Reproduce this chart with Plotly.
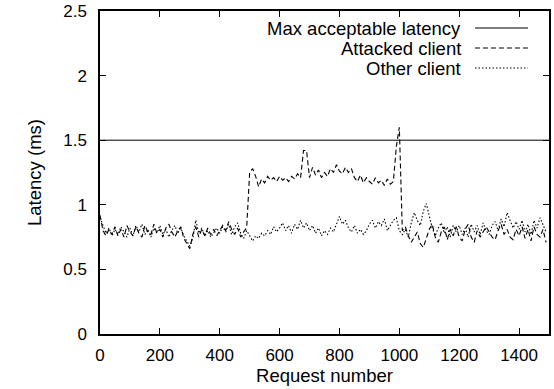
import plotly.graph_objects as go

# x positions (request number), every 10 requests
request_x = [i * 10 for i in range(150)]

other_client = [
    0.90, 0.84, 0.78, 0.82, 0.76, 0.81, 0.77, 0.83, 0.79, 0.75,
    0.82, 0.76, 0.84, 0.79, 0.85, 0.77, 0.81, 0.75, 0.82, 0.78,
    0.84, 0.77, 0.81, 0.75, 0.80, 0.84, 0.78, 0.82, 0.76, 0.72,
    0.68, 0.74, 0.88, 0.78, 0.82, 0.76, 0.80, 0.75, 0.79, 0.82,
    0.78, 0.83, 0.79, 0.85, 0.77, 0.83, 0.86, 0.78, 0.74, 0.80,
    0.76, 0.72, 0.76, 0.74, 0.78, 0.76, 0.80, 0.77, 0.83, 0.79,
    0.82, 0.86, 0.80, 0.84, 0.78, 0.85, 0.81, 0.88, 0.82, 0.86,
    0.80, 0.84, 0.78, 0.82, 0.76, 0.80, 0.77, 0.82, 0.79, 0.85,
    0.91, 0.85, 0.88, 0.82, 0.79, 0.84, 0.78, 0.81, 0.77, 0.80,
    0.85, 0.88, 0.82, 0.87, 0.84, 0.89, 0.80, 0.84, 0.88, 0.90,
    0.80, 0.77, 0.81, 0.75, 0.86, 0.94, 0.88, 0.84, 0.95, 1.01,
    0.92, 0.82, 0.76, 0.82, 0.86, 0.78, 0.83, 0.75, 0.84, 0.79,
    0.84, 0.77, 0.82, 0.75, 0.85, 0.79, 0.84, 0.77, 0.86, 0.80,
    0.77, 0.84, 0.87, 0.80, 0.89, 0.83, 0.94, 0.88, 0.82, 0.87,
    0.81, 0.88, 0.79, 0.85, 0.77, 0.88, 0.82, 0.90, 0.84, 0.79,
]

attacked_client = [
    0.92, 0.80, 0.76, 0.81, 0.77, 0.83, 0.76, 0.81, 0.75, 0.84,
    0.79, 0.76, 0.83, 0.78, 0.75, 0.84, 0.79, 0.77, 0.85, 0.78,
    0.81, 0.75, 0.82, 0.85, 0.79, 0.75, 0.80, 0.83, 0.74, 0.70,
    0.66, 0.77, 0.83, 0.75, 0.81, 0.76, 0.82, 0.77, 0.81, 0.76,
    0.80, 0.84, 0.80, 0.87, 0.81, 0.77, 0.82, 0.75, 0.79, 0.82,
    1.25, 1.28, 1.22, 1.14, 1.20, 1.17, 1.22, 1.19, 1.21, 1.18,
    1.22, 1.19, 1.21, 1.18, 1.22, 1.20, 1.24, 1.21, 1.42, 1.42,
    1.21, 1.29, 1.23, 1.27, 1.21, 1.25, 1.22, 1.28, 1.25, 1.31,
    1.26, 1.24, 1.29, 1.25, 1.28, 1.21, 1.18, 1.23, 1.17, 1.21,
    1.18, 1.16, 1.21, 1.17, 1.19, 1.15, 1.20, 1.16, 1.18, 1.45,
    1.60, 0.80, 0.83, 0.76, 0.71, 0.75, 0.79, 0.70, 0.67, 0.74,
    0.81, 0.85, 0.75, 0.71, 0.79, 0.83, 0.73, 0.81, 0.76, 0.83,
    0.75, 0.72, 0.81, 0.85, 0.75, 0.71, 0.80, 0.75, 0.79, 0.83,
    0.79, 0.75, 0.73, 0.80, 0.85, 0.77, 0.81, 0.75, 0.73, 0.81,
    0.76, 0.83, 0.74, 0.81, 0.72, 0.83, 0.77, 0.75, 0.81, 0.71,
]

max_latency_x = [0, 1500]
max_latency = [1.5, 1.5]

x_ticks = [0, 200, 400, 600, 800, 1000, 1200, 1400]
y_ticks = [0, 0.5, 1, 1.5, 2, 2.5]
y_tick_labels = ["0", "0.5", "1", "1.5", "2", "2.5"]

legend_labels = ["Max acceptable latency", "Attacked client", "Other client"]

FONT = "Liberation Sans, Arial, Helvetica, sans-serif"
FS_TICK = 17
FS_TEXT = 18.5

DASH_ATT = "5px,3px"
DASH_OTH = "1.5px,2px"
legend_dashes = ["solid", DASH_ATT, DASH_OTH]

W, H = 554, 389
left, right = 100, 549
top, bottom = 11, 334

fig = go.Figure()
fig.add_trace(go.Scatter(x=max_latency_x, y=max_latency, mode="lines",
                         line=dict(color="black", width=1, dash="solid"),
                         showlegend=False))
fig.add_trace(go.Scatter(x=request_x, y=attacked_client, mode="lines",
                         line=dict(color="black", width=1.1, dash=DASH_ATT),
                         showlegend=False))
fig.add_trace(go.Scatter(x=request_x, y=other_client, mode="lines",
                         line=dict(color="black", width=1.1, dash=DASH_OTH),
                         showlegend=False))

# gnuplot-style legend: text right-aligned, line sample on the right
legend_y = [28, 48, 68]  # pixel rows
for lab, dsh, py in zip(legend_labels, legend_dashes, legend_y):
    yp = (bottom - py) / (bottom - top)
    fig.add_annotation(xref="paper", yref="paper", x=(463 - left) / (right - left), y=yp,
                       text=lab, showarrow=False, xanchor="right", yanchor="middle",
                       font=dict(family=FONT, size=FS_TEXT, color="black"))
    fig.add_shape(type="line", xref="paper", yref="paper",
                  x0=(475 - left) / (right - left), x1=(528 - left) / (right - left), y0=yp, y1=yp,
                  line=dict(color="black", width=1.1, dash=dsh))

axis_common = dict(showline=True, linecolor="black", linewidth=1.5, mirror="allticks",
                   ticks="inside", ticklen=6, tickwidth=1.2, tickcolor="black",
                   showgrid=False, zeroline=False, automargin=False,
                   tickfont=dict(family=FONT, size=FS_TICK, color="black"))

fig.update_layout(
    width=W, height=H,
    margin=dict(l=left, r=W - right, t=top, b=H - bottom),
    plot_bgcolor="white", paper_bgcolor="white",
    font=dict(family=FONT, size=FS_TICK, color="black"),
    hovermode=False,
    xaxis=dict(range=[0, 1500], tickvals=x_ticks, ticklabelstandoff=5,
               title=dict(text="Request number", font=dict(family=FONT, size=FS_TEXT), standoff=2),
               **axis_common),
    yaxis=dict(range=[0, 2.5], tickvals=y_ticks, ticktext=y_tick_labels, ticklabelstandoff=8,
               title=dict(text="Latency (ms)", font=dict(family=FONT, size=FS_TEXT), standoff=17),
               **axis_common),
)

fig.write_html("out.html", config={"displayModeBar": False},
               post_script="document.body.style.margin='0px';document.body.style.overflow='hidden';")
